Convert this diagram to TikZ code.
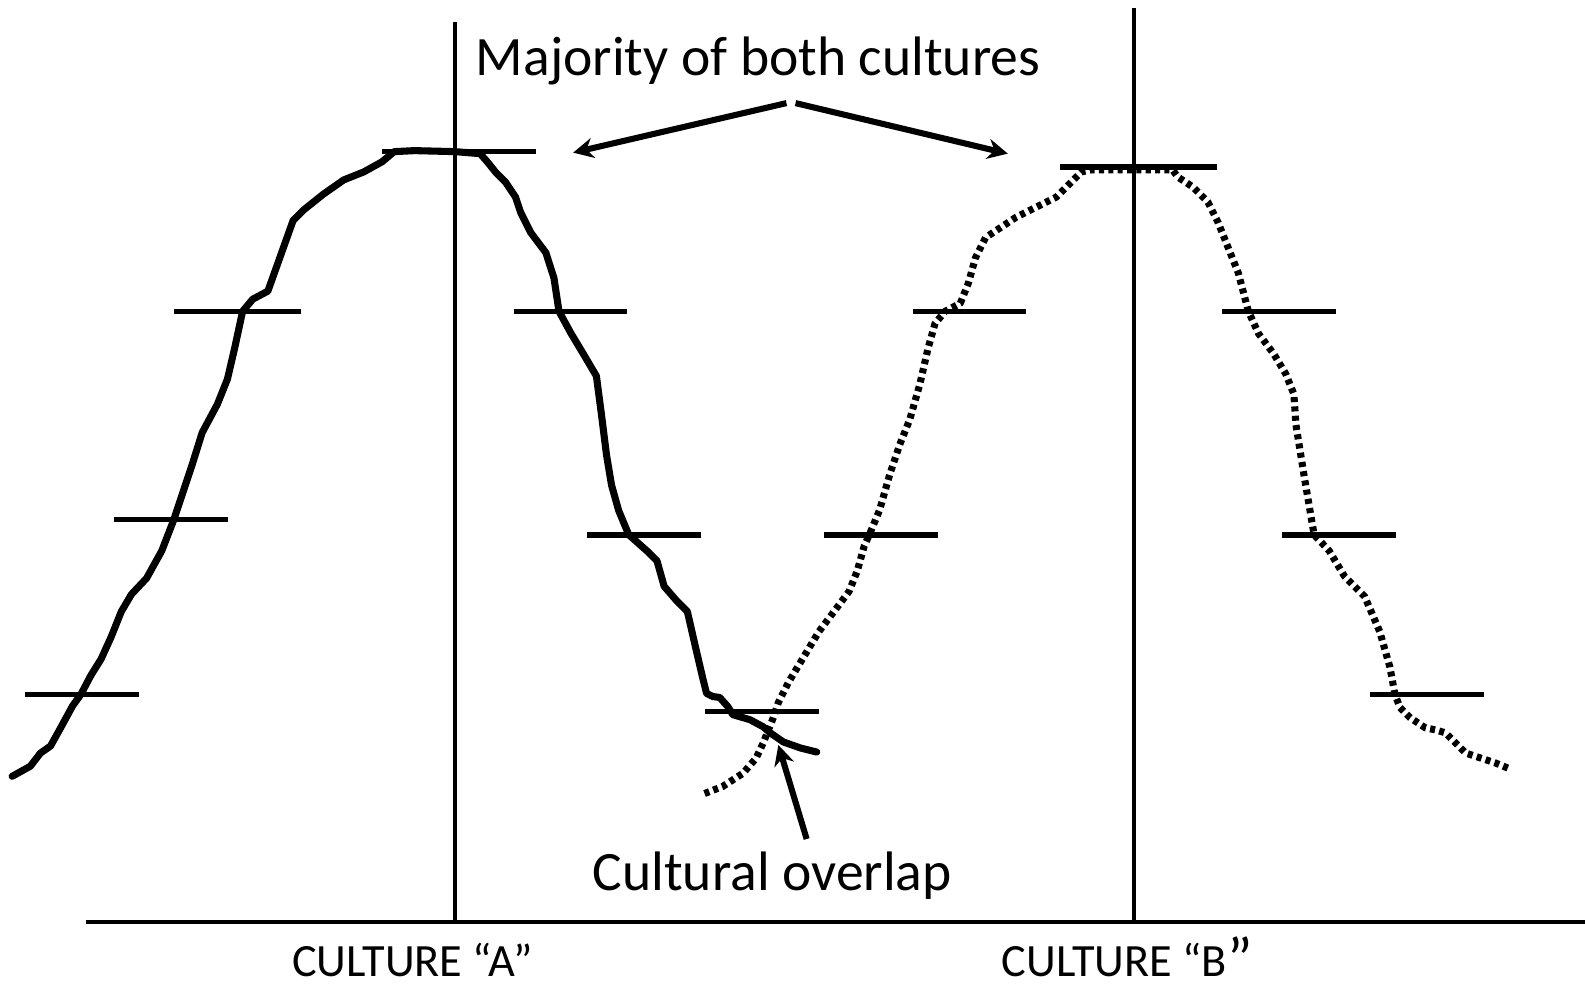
\documentclass[tikz,border=0pt]{standalone}
\usepackage{fontspec}
\setmainfont{Carlito}
\usetikzlibrary{arrows.meta}
\begin{document}
\begin{tikzpicture}[x=0.4pt,y=-0.4pt,
  bar/.style={line width=2.2pt},
  axisline/.style={line width=1.6pt},
  curveA/.style={line width=2.8pt,line join=round,line cap=round},
  curveB/.style={line width=2.8pt,line join=round,dash pattern=on 2pt off 1.7pt},
  pointer/.style={line width=2.4pt,-{Stealth[length=8pt,width=8pt]}},
  bigtext/.style={font=\fontsize{22}{26}\selectfont,inner sep=0pt},
  labeltext/.style={font=\fontsize{18.3}{22}\selectfont,inner sep=0pt,anchor=base}]
\useasboundingbox (0,0) rectangle (1568,975);
% axes
\draw[axisline] (85,912) -- (1568,912);
\draw[axisline] (450,22) -- (450,912);
\draw[axisline] (1122,8) -- (1122,912);
% bars
\foreach \a/\b/\y in {378/530/150, 172/298/308, 113/226/514, 25/138/687, 508/620/308, 581/693/529, 697/810/704,
  1049/1204/165, 903/1015/308, 815/928/529, 1209/1322/308, 1268/1381/529, 1355/1468/687}
  \draw[bar] (\a,\y) -- (\b,\y);
% curve A (solid)
\draw[curveA] (12,768) -- (30,758) -- (40,745) -- (50,738) -- (60,720) -- (72,698) -- (80,687) -- (90,668) -- (100,652)
  -- (110,630) -- (120,605) -- (130,588) -- (145,572) -- (160,545) -- (172,514) -- (180,490) -- (190,460) -- (200,428)
  -- (215,400) -- (225,375) -- (232,345) -- (240,308) -- (250,296) -- (265,288) -- (275,260) -- (290,218) -- (300,208)
  -- (320,192) -- (340,178) -- (360,170) -- (378,160) -- (390,150) -- (410,149) -- (450,150) -- (475,152) -- (482,160)
  -- (490,170) -- (500,180) -- (510,195) -- (515,210) -- (525,230) -- (540,250) -- (548,275) -- (553,308) -- (565,330)
  -- (580,355) -- (590,372) -- (595,410) -- (600,450) -- (605,480) -- (612,505) -- (622,529) -- (640,545) -- (650,555)
  -- (657,580) -- (670,595) -- (680,605) -- (688,640) -- (695,670) -- (699,686) -- (705,689) -- (712,690) -- (720,699)
  -- (725,707) -- (742,712) -- (755,719) -- (762,725) -- (775,734) -- (792,740) -- (808,744);
% curve B (dashed)
\draw[curveB] (697,785) -- (715,778) -- (735,765) -- (748,750) -- (755,735) -- (765,710) -- (770,695) -- (780,675)
  -- (795,650) -- (810,625) -- (825,605) -- (840,585) -- (848,565) -- (855,540) -- (860,529) -- (870,505) -- (880,470)
  -- (890,440) -- (900,415) -- (910,380) -- (918,345) -- (925,320) -- (935,308) -- (950,300) -- (958,280) -- (965,255)
  -- (975,235) -- (990,225) -- (1005,215) -- (1025,205) -- (1045,195) -- (1060,180) -- (1070,170) -- (1080,168)
  -- (1122,168) -- (1160,168) -- (1165,175) -- (1180,185) -- (1195,200) -- (1205,220) -- (1215,245) -- (1225,270)
  -- (1235,308) -- (1245,330) -- (1260,350) -- (1272,370) -- (1280,390) -- (1282,420) -- (1290,470) -- (1300,529)
  -- (1315,545) -- (1330,570) -- (1350,590) -- (1365,625) -- (1375,660) -- (1380,687) -- (1385,700) -- (1395,710)
  -- (1410,720) -- (1420,722) -- (1430,725) -- (1440,735) -- (1450,745) -- (1465,750) -- (1480,755) -- (1492,760);
% texts
\node[bigtext] (maj) at (750,60) {Majority of both cultures};
\node[bigtext] (ovl) at (764,866) {Cultural overlap};
\node[labeltext] (ca) at (408,966) {CULTURE “A”};
\node[labeltext] (cb) at (1115,966) {CULTURE “B\raisebox{-1pt}{\fontsize{24}{24}\selectfont ”}};
% arrows
\coordinate (m1) at (778,102);
\coordinate (m2) at (787,102);
\coordinate (t1) at (567,151);
\coordinate (t2) at (997,152);
\coordinate (o1) at (798,830);
\coordinate (o2) at (770,737);
\draw[pointer] (m1) -- (t1);
\draw[pointer] (m2) -- (t2);
\draw[pointer] (o1) -- (o2);
\end{tikzpicture}
\end{document}
